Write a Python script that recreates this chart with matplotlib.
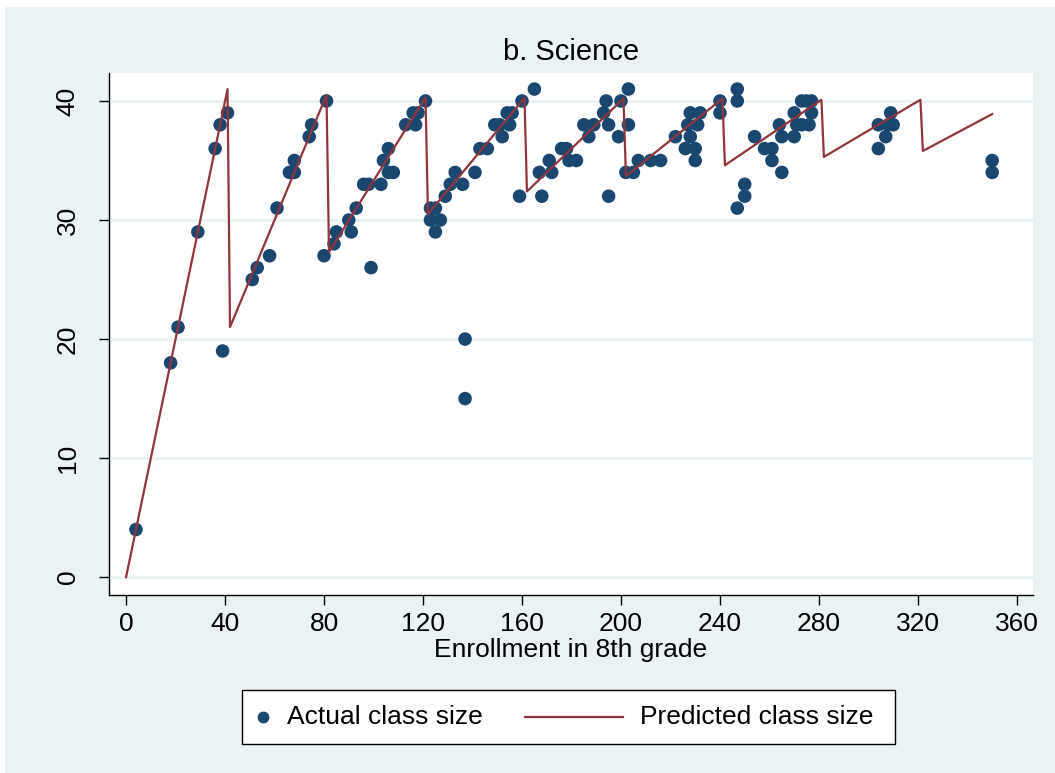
import numpy as np
import matplotlib
matplotlib.use("Agg")
import matplotlib.pyplot as plt
from matplotlib.lines import Line2D
from matplotlib.patches import Rectangle

plt.rcParams["font.family"] = ["Liberation Sans", "DejaVu Sans"]

# actual class size by 8th-grade enrollment
enroll = [4, 18, 21, 29, 36, 38, 41, 39,
          51, 53, 58, 61, 66, 68, 68, 74, 75, 80, 81,
          84, 85, 90, 91, 93, 99, 96, 98, 103, 104, 106, 106, 108, 113, 116, 117, 118, 121,
          123, 125, 123, 127, 125, 129, 131, 133, 136, 137, 137, 141, 143, 146, 149, 151,
          152, 154, 155, 156, 159, 160,
          165, 167, 168, 171, 172, 176, 178, 179, 182, 185, 189, 187, 193, 194, 195, 195,
          200, 199,
          203, 203, 202, 205, 207, 212, 216, 222, 228, 232, 227, 231, 228, 226, 230, 230,
          240, 240,
          247, 247, 250, 250, 247, 254, 258, 261, 261, 265, 264, 265, 270, 270, 273, 275,
          277, 273, 276, 277, 271,
          304, 304, 307, 309, 310, 308,
          350, 350]
class_size = [4, 18, 21, 29, 36, 38, 39, 19,
              25, 26, 27, 31, 34, 34, 35, 37, 38, 27, 40,
              28, 29, 30, 29, 31, 26, 33, 33, 33, 35, 36, 34, 34, 38, 39, 38, 39, 40,
              31, 31, 30, 30, 29, 32, 33, 34, 33, 20, 15, 34, 36, 36, 38, 38,
              37, 39, 38, 39, 32, 40,
              41, 34, 32, 35, 34, 36, 36, 35, 35, 38, 38, 37, 39, 40, 38, 32,
              40, 37,
              41, 38, 34, 34, 35, 35, 35, 37, 39, 39, 38, 38, 37, 36, 36, 35,
              40, 39,
              41, 40, 33, 32, 31, 37, 36, 36, 35, 34, 38, 37, 37, 39, 40, 40,
              40, 38, 38, 39, 38,
              38, 36, 37, 39, 38, 38,
              35, 34]

# predicted class size (vertices of the sawtooth)
pred_x = [0, 41, 42, 81, 82, 121, 122, 161, 162, 201, 202, 241, 242, 281, 282, 321, 322, 350]
pred_y = [0, 41, 21, 40.5, 27.3, 40.3, 30.5, 40.25, 32.4, 40.2, 33.7, 40.2, 34.6, 40.1, 35.3,
          40.1, 35.8, 38.9]

x_ticks = list(range(0, 361, 40))
y_ticks = [0, 10, 20, 30, 40]
legend_labels = ["Actual class size", "Predicted class size"]

BG = "#EAF2F3"
NAVY = "#1A476F"
MAROON = "#90353B"

W, H = 1055, 773
fig = plt.figure(figsize=(W / 100, H / 100), dpi=100, facecolor=BG)
# thin white strips at top/left edge as in the export
fig.patches.append(Rectangle((0, 1 - 7 / H), 1, 7 / H, transform=fig.transFigure,
                             fc="white", ec="none", zorder=0))
fig.patches.append(Rectangle((0, 0), 5 / W, 1, transform=fig.transFigure,
                             fc="white", ec="none", zorder=0))

ax = fig.add_axes([109 / W, 1 - 595 / H, (1033 - 109) / W, (595 - 73) / H])
ax.set_facecolor("white")

for yv in y_ticks:
    ax.axhline(yv, color=BG, lw=2.2, zorder=1)

ax.scatter(enroll, class_size, s=95, color=NAVY, edgecolors="none", zorder=3)
ax.plot(pred_x, pred_y, color=MAROON, lw=1.6, zorder=4)

ax.set_xlim(-6.9, 366.5)
ax.set_ylim(-1.5, 42.35)
ax.set_xticks(x_ticks)
ax.set_yticks(y_ticks)
ax.set_yticklabels([str(v) for v in y_ticks], rotation=90, va="center")
ax.tick_params(axis="both", direction="out", length=7, width=1, labelsize=19, color="black")
ax.tick_params(axis="y", pad=14)
ax.tick_params(axis="x", pad=5)
for side in ["top", "right"]:
    ax.spines[side].set_visible(False)
for side in ["left", "bottom"]:
    ax.spines[side].set_color("black")
    ax.spines[side].set_linewidth(1)

ax.set_xlabel("Enrollment in 8th grade", fontsize=19, labelpad=2)
fig.text(571 / W, 1 - 52 / H, "b. Science", ha="center", va="center", fontsize=21)

# legend box drawn by hand (Stata layout: short marker key, long line key)
ly = 1 - 717 / H
fig.patches.append(Rectangle((242 / W, 1 - 744 / H), (895 - 242) / W, (744 - 690) / H,
                             transform=fig.transFigure, fc="white", ec="black", lw=1))
fig.add_artist(Line2D([263 / W], [ly], transform=fig.transFigure, ls="none",
                      marker="o", ms=7.5, color=NAVY))
fig.text(287 / W, ly, legend_labels[0], ha="left", va="center", fontsize=19)
fig.add_artist(Line2D([525 / W, 623 / W], [ly, ly], transform=fig.transFigure,
                      color=MAROON, lw=1.6))
fig.text(640 / W, ly, legend_labels[1], ha="left", va="center", fontsize=19)

plt.savefig("out.png", dpi=100, facecolor=fig.get_facecolor())
